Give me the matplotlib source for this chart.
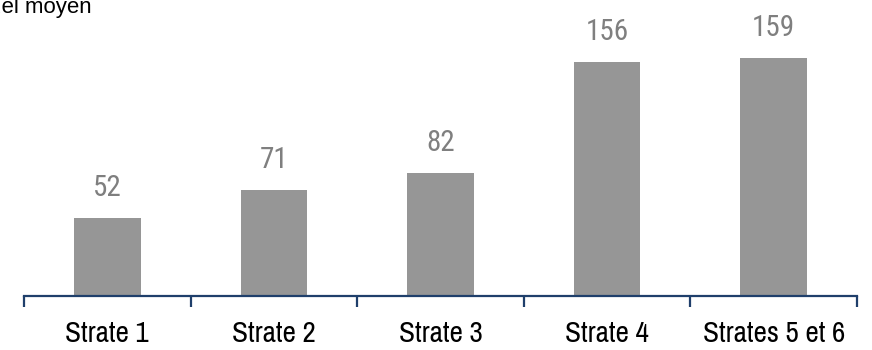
import matplotlib.pyplot as plt

strates = ['Strate 1', 'Strate 2', 'Strate 3', 'Strate 4', 'Strates 5 et 6']
valeurs = [52, 71, 82, 156, 159]

fig = plt.figure(figsize=(8.72, 3.5), dpi=100)
ax = fig.add_axes([24 / 872, 54 / 350, 833 / 872, 270 / 350])

x = range(len(strates))
barres = ax.bar(x, valeurs, width=0.4, color='#969696')
for b, v in zip(barres, valeurs):
    ax.annotate(str(v), (b.get_x() + b.get_width() / 2, v), xytext=(0, 11.5),
                textcoords='offset points', ha='center', va='bottom',
                fontsize=21, color='#7f7f7f', family='Roboto Condensed')

ax.set_xlim(-0.5, len(strates) - 0.5)
ax.set_ylim(0, 180)
for s in ['top', 'right', 'left']:
    ax.spines[s].set_visible(False)
ax.spines['bottom'].set_color('#1f3f6b')
ax.spines['bottom'].set_linewidth(1.6)
ax.set_yticks([])

# graduations entre les catégories
ax.set_xticks([i - 0.5 for i in range(len(strates) + 1)])
ax.set_xticklabels([])
ax.tick_params(axis='x', length=8, width=1.6, color='#1f3f6b', direction='out')
ax.set_xticks(list(x), minor=True)
ax.set_xticklabels(strates, minor=True, fontsize=21, family='Archivo Narrow')
ax.tick_params(axis='x', which='minor', length=0, pad=17)

fig.text(92 / 872, 1 - 13 / 350, 'Revenu annuel moyen', ha='right', va='baseline',
         fontsize=16, family='Liberation Sans')

fig.savefig('out.png', dpi=100)
